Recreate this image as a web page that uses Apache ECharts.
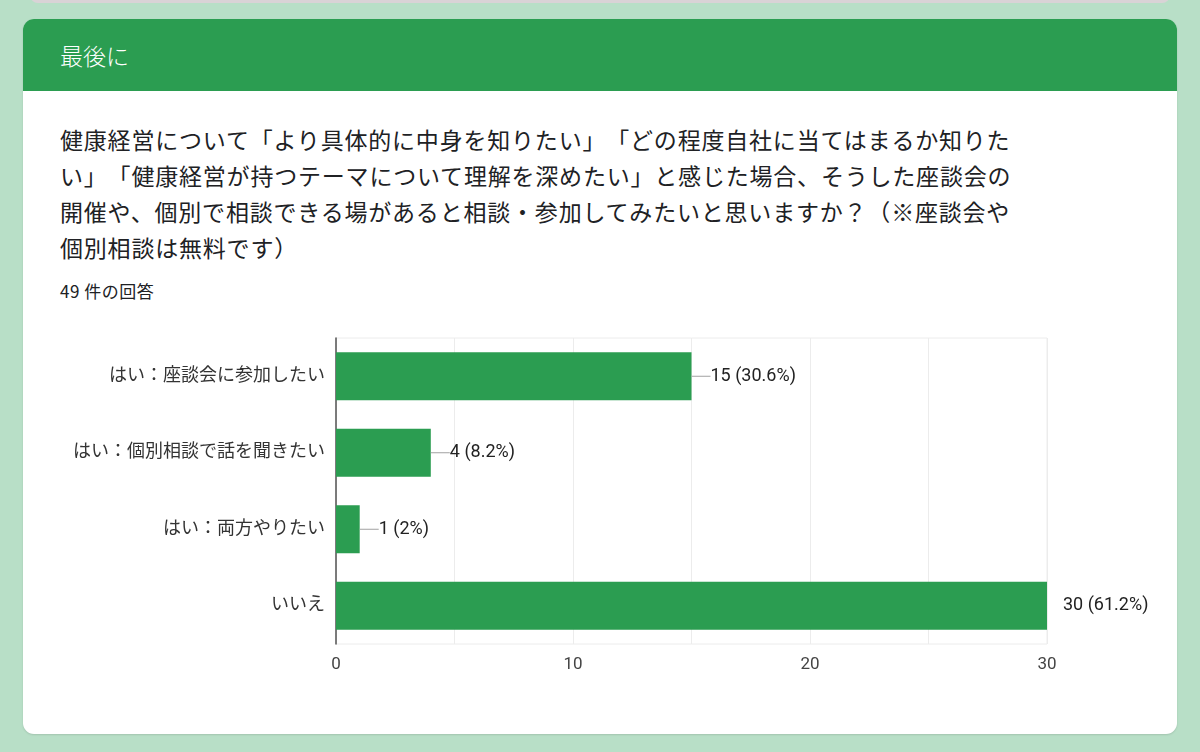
<!DOCTYPE html>
<html><head><meta charset="utf-8">
<script src="https://cdn.jsdelivr.net/npm/echarts@6/dist/echarts.min.js"></script>
<style>
html,body{margin:0;padding:0;width:1200px;height:752px;background:#b8dfc7;overflow:hidden;font-family:"Noto Sans CJK JP","Noto Sans",sans-serif;}
#prev{position:absolute;left:30px;top:-10px;width:1140px;height:13px;background:#d9d3d6;border-radius:0 0 8px 8px;}
#card{position:absolute;left:23px;top:19px;width:1154px;height:715px;background:#fff;border-radius:11px;box-shadow:0 1px 2px rgba(0,0,0,0.12);overflow:hidden;}
#head{position:absolute;left:0;top:0;width:100%;height:72px;background:#2b9d51;color:#fff;font-size:23px;line-height:72px;padding-left:37px;box-sizing:border-box;font-weight:300;}
#q{position:absolute;left:37px;top:102px;font-size:23px;letter-spacing:0.8px;line-height:36px;color:#202124;white-space:nowrap;text-spacing-trim:space-all;}
#n{position:absolute;left:37px;top:260px;font-size:17px;letter-spacing:0.5px;color:#202124;line-height:24px;}
#chart{position:absolute;left:0;top:0;width:1200px;height:752px;}
</style></head>
<body>
<div id="prev"></div>
<div id="card">
<div id="head">最後に</div>
<div id="q">健康経営について「より具体的に中身を知りたい」「どの程度自社に当てはまるか知りた<br>い」「健康経営が持つテーマについて理解を深めたい」と感じた場合、そうした座談会の<br>開催や、個別で相談できる場があると相談・参加してみたいと思いますか？（※座談会や<br>個別相談は無料です）</div>
<div id="n">49 件の回答</div>
</div>
<div id="chart"></div>
<script>
var categories = ['はい：座談会に参加したい', 'はい：個別相談で話を聞きたい', 'はい：両方やりたい', 'いいえ'];
var counts = [15, 4, 1, 30];
var percents = ['30.6%', '8.2%', '2%', '61.2%'];
var xTicks = [0, 10, 20, 30];

var chart = echarts.init(document.getElementById('chart'), null, {renderer: 'canvas'});
var fam = 'Roboto, "Noto Sans CJK JP", sans-serif';
var data = counts.map(function (v, i) {
  var last = i === counts.length - 1;
  return {
    value: v,
    label: {
      formatter: (last ? '{g|}' : '{l|}') + '{t|' + v + ' (' + percents[i] + ')}'
    }
  };
});
chart.setOption({
  animation: false,
  grid: {left: 336, right: 153, top: 338, height: 306, show: true, borderColor: '#ececec', borderWidth: 1, containLabel: false},
  xAxis: {
    type: 'value', min: 0, max: 30, interval: 5,
    axisLine: {show: false}, axisTick: {show: false},
    splitLine: {lineStyle: {color: '#ececec', width: 1}},
    axisLabel: {
      color: '#444', fontSize: 17, fontFamily: fam, margin: 12,
      formatter: function (v) { return xTicks.indexOf(v) >= 0 ? String(v) : ''; }
    }
  },
  yAxis: {
    type: 'category', data: categories, inverse: true,
    axisLine: {show: true, lineStyle: {color: '#555', width: 1.5}},
    axisTick: {show: false},
    axisLabel: {color: '#333', fontSize: 18, fontFamily: fam, margin: 11}
  },
  series: [{
    type: 'bar', data: data, barWidth: 48,
    itemStyle: {color: '#2b9d51'},
    label: {
      show: true, position: 'right', distance: 0,
      rich: {
        l: {width: 19, height: 1, backgroundColor: '#a0a0a0'},
        g: {width: 16, height: 1},
        t: {color: '#222', fontSize: 18, fontFamily: fam}
      }
    }
  }]
});
</script>
</body></html>
